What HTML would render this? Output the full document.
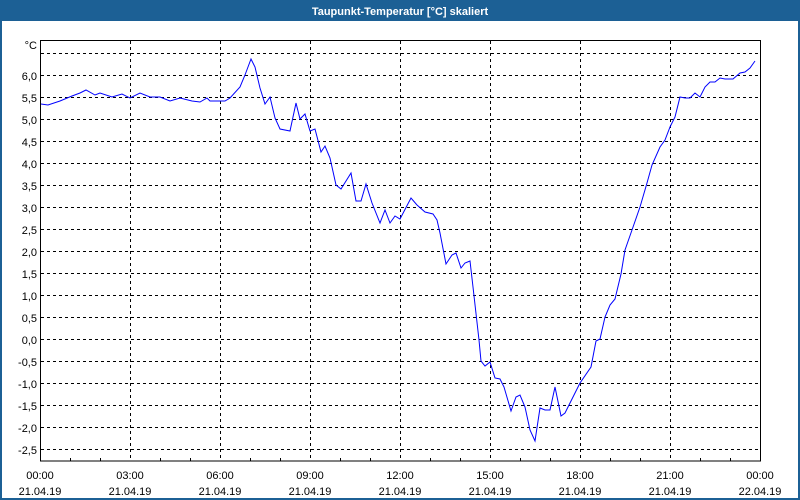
<!DOCTYPE html>
<html><head><meta charset="utf-8"><style>
html,body{margin:0;padding:0;background:#fff;}
svg{display:block;}
text{font-family:"Liberation Sans","DejaVu Sans",sans-serif;font-size:11px;fill:#000;}
</style></head><body>
<svg width="800" height="500" viewBox="0 0 800 500" xmlns="http://www.w3.org/2000/svg">
<rect x="0" y="0" width="800" height="500" fill="#1c6095"/>
<rect x="2" y="21" width="796" height="477" fill="#fff"/>
<text x="400" y="15" text-anchor="middle" style="fill:#fff;font-weight:bold;font-size:11px">Taupunkt-Temperatur [°C] skaliert</text>
<g stroke="#000" stroke-width="1" stroke-dasharray="3,3" shape-rendering="crispEdges">
<line x1="41" y1="53.5" x2="760" y2="53.5"/><line x1="41" y1="75.5" x2="760" y2="75.5"/><line x1="41" y1="97.5" x2="760" y2="97.5"/><line x1="41" y1="119.5" x2="760" y2="119.5"/><line x1="41" y1="141.5" x2="760" y2="141.5"/><line x1="41" y1="163.5" x2="760" y2="163.5"/><line x1="41" y1="185.5" x2="760" y2="185.5"/><line x1="41" y1="207.5" x2="760" y2="207.5"/><line x1="41" y1="229.5" x2="760" y2="229.5"/><line x1="41" y1="251.5" x2="760" y2="251.5"/><line x1="41" y1="273.5" x2="760" y2="273.5"/><line x1="41" y1="295.5" x2="760" y2="295.5"/><line x1="41" y1="317.5" x2="760" y2="317.5"/><line x1="41" y1="339.5" x2="760" y2="339.5"/><line x1="41" y1="361.5" x2="760" y2="361.5"/><line x1="41" y1="383.5" x2="760" y2="383.5"/><line x1="41" y1="405.5" x2="760" y2="405.5"/><line x1="41" y1="427.5" x2="760" y2="427.5"/><line x1="41" y1="449.5" x2="760" y2="449.5"/>
<line x1="130.5" y1="41" x2="130.5" y2="461"/><line x1="220.5" y1="41" x2="220.5" y2="461"/><line x1="310.5" y1="41" x2="310.5" y2="461"/><line x1="400.5" y1="41" x2="400.5" y2="461"/><line x1="490.5" y1="41" x2="490.5" y2="461"/><line x1="580.5" y1="41" x2="580.5" y2="461"/><line x1="670.5" y1="41" x2="670.5" y2="461"/>
</g>
<rect x="40.5" y="40.5" width="720" height="420.5" fill="none" stroke="#000" stroke-width="1" shape-rendering="crispEdges"/>
<g stroke="#000" shape-rendering="crispEdges">
<line x1="70.5" y1="458" x2="70.5" y2="461"/><line x1="100.5" y1="458" x2="100.5" y2="461"/><line x1="160.5" y1="458" x2="160.5" y2="461"/><line x1="190.5" y1="458" x2="190.5" y2="461"/><line x1="250.5" y1="458" x2="250.5" y2="461"/><line x1="280.5" y1="458" x2="280.5" y2="461"/><line x1="340.5" y1="458" x2="340.5" y2="461"/><line x1="370.5" y1="458" x2="370.5" y2="461"/><line x1="430.5" y1="458" x2="430.5" y2="461"/><line x1="460.5" y1="458" x2="460.5" y2="461"/><line x1="520.5" y1="458" x2="520.5" y2="461"/><line x1="550.5" y1="458" x2="550.5" y2="461"/><line x1="610.5" y1="458" x2="610.5" y2="461"/><line x1="640.5" y1="458" x2="640.5" y2="461"/><line x1="700.5" y1="458" x2="700.5" y2="461"/><line x1="730.5" y1="458" x2="730.5" y2="461"/>
</g>
<g text-anchor="end">
<text x="37" y="49">°C</text>
<text x="37" y="80">6,0</text><text x="37" y="102">5,5</text><text x="37" y="124">5,0</text><text x="37" y="146">4,5</text><text x="37" y="168">4,0</text><text x="37" y="190">3,5</text><text x="37" y="212">3,0</text><text x="37" y="234">2,5</text><text x="37" y="256">2,0</text><text x="37" y="278">1,5</text><text x="37" y="300">1,0</text><text x="37" y="322">0,5</text><text x="37" y="344">0,0</text><text x="37" y="366">-0,5</text><text x="37" y="388">-1,0</text><text x="37" y="410">-1,5</text><text x="37" y="432">-2,0</text><text x="37" y="454">-2,5</text>
</g>
<g text-anchor="middle">
<text x="40" y="479">00:00</text><text x="40" y="495">21.04.19</text>
<text x="130" y="479">03:00</text><text x="130" y="495">21.04.19</text>
<text x="220" y="479">06:00</text><text x="220" y="495">21.04.19</text>
<text x="310" y="479">09:00</text><text x="310" y="495">21.04.19</text>
<text x="400" y="479">12:00</text><text x="400" y="495">21.04.19</text>
<text x="490" y="479">15:00</text><text x="490" y="495">21.04.19</text>
<text x="580" y="479">18:00</text><text x="580" y="495">21.04.19</text>
<text x="670" y="479">21:00</text><text x="670" y="495">21.04.19</text>
<text x="760" y="479">00:00</text><text x="760" y="495">22.04.19</text>
</g>
<polyline fill="none" stroke="#0000ff" stroke-width="1" points="41,104 48,105 60,101 72,96 80,93 86,90 95,95 100,93 112,97 122,94 130,98 140,93 150,97 160,97 170,101 180,98 192,101 200,102 207,98 210,101 225,101 230,98 240,87 245,75 251,59 255,67 260,88 265,104 270,97 275,118 280,129 290,131 296,103 300,119 305,114 310,131 315,129 321,152 325,146 330,158 336,185 341,189 351,173 356,201 361,201 366,184 372,203 380,223 385,210 390,223 395,216 400,219 411,198 417,205 425,212 433,214 437,220 440,233 446,264 452,255 456,253 461,268 465,263 470,261 473,287 479,340 481,361 485,366 490,362 495,378 500,379 504,387 511,411 516,397 520,395 525,407 530,430 535,441 540,408 545,410 550,410 555,387 561,416 565,413 580,383 591,367 596,341 600,339 605,317 610,305 615,299 621,274 625,250 632,230 640,207 647,183 652,165 660,147 665,140 670,127 675,117 680,97 685,98 690,98 695,93 700,97 705,87 710,82 715,82 720,78 725,79 733,79 740,73 745,72 750,68 755,61"/>
</svg>
</body></html>
